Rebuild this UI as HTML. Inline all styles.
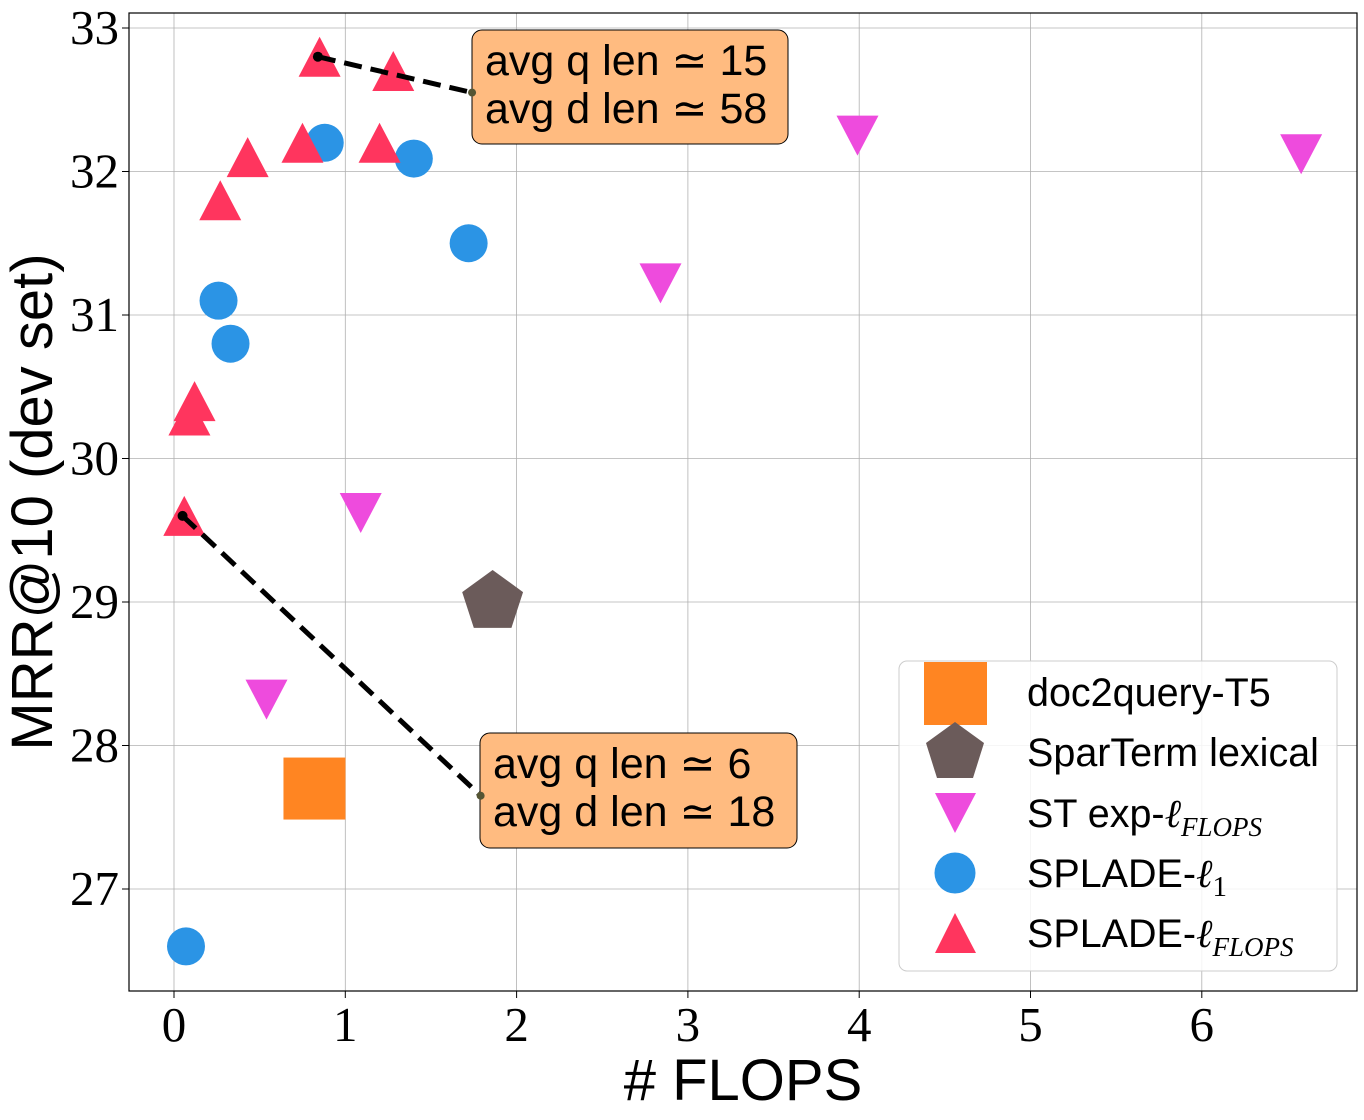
<!DOCTYPE html>
<html><head><meta charset="utf-8"><style>
html,body{margin:0;padding:0;background:#fff;}
svg{display:block;}
.tick{font-family:"Liberation Serif",serif;font-size:49px;fill:#000;}
.lab{font-family:"Liberation Sans",sans-serif;font-size:58px;fill:#000;}
.leg{font-family:"Liberation Sans",sans-serif;font-size:39.5px;fill:#000;}
.ann{font-family:"Liberation Sans",sans-serif;font-size:43px;fill:#000;}
.it{font-family:"Liberation Serif",serif;font-style:italic;}
</style></head><body>
<svg id="chart" width="1364" height="1120" xmlns="http://www.w3.org/2000/svg">
<g id="grid"></g>
<g id="marks"></g>
<rect x="129" y="13" width="1228" height="978" fill="none" stroke="#000" stroke-width="1.2"/>
<g id="ticks"></g>
<text class="lab" x="743" y="1100" text-anchor="middle"># FLOPS</text>
<text class="lab" transform="translate(52,502) rotate(-90)" text-anchor="middle">MRR@10 (dev set)</text>
<g>
<rect x="472" y="30" width="316" height="114" rx="10" fill="#ffbb80" stroke="#000" stroke-width="1"/>
<text class="ann" x="485" y="75">avg q len ≃ 15</text>
<text class="ann" x="485" y="123">avg d len ≃ 58</text>
</g>
<g>
<rect x="480" y="733" width="317" height="115" rx="10" fill="#ffbb80" stroke="#000" stroke-width="1"/>
<text class="ann" x="493" y="778">avg q len ≃ 6</text>
<text class="ann" x="493" y="826">avg d len ≃ 18</text>
</g>
<g id="lines"></g>
<g>
<rect x="899" y="661" width="438" height="310" rx="8" fill="#fff" fill-opacity="0.85" stroke="#ccc"/>
<rect x="924" y="662" width="63" height="63" fill="#ff8522"/>
<polygon points="955,722 984,743 973,778 937,778 926,743" fill="#6b5b5a"/>
<polygon points="935,793 976,793 955,833" fill="#ee4bdd"/>
<circle cx="955" cy="873" r="20.5" fill="#2b94e5"/>
<polygon points="955,913 976,953 935,953" fill="#ff355e"/>
<text class="leg" x="1027" y="706">doc2query-T5</text>
<text class="leg" x="1027" y="766">SparTerm lexical</text>
<text class="leg" x="1027" y="827">ST exp-<tspan class="it">ℓ</tspan><tspan class="it" font-size="27" dy="9">FLOPS</tspan></text>
<text class="leg" x="1027" y="887">SPLADE-<tspan class="it">ℓ</tspan><tspan font-family="Liberation Serif" font-size="29" dy="9">1</tspan></text>
<text class="leg" x="1027" y="947">SPLADE-<tspan class="it">ℓ</tspan><tspan class="it" font-size="27" dy="9">FLOPS</tspan></text>
</g>
</svg>
<script>
const xTicks=[0,1,2,3,4,5,6];
const yTicks=[27,28,29,30,31,32,33];
const circleX=[0.88,1.40,1.72,0.26,0.33,0.07];
const circleY=[32.2,32.09,31.5,31.1,30.8,26.6];
const upX=[0.85,1.28,0.75,1.20,0.43,0.27,0.12,0.09,0.06];
const upY=[32.8,32.7,32.2,32.2,32.1,31.8,30.4,30.3,29.6];
const downX=[3.99,6.58,2.84,1.09,0.54];
const downY=[32.25,32.12,31.22,29.62,28.32];
const pentX=[1.86];const pentY=[29.0];
const sqX=[0.82];const sqY=[27.7];
const lineTopX=[0.84,1.74];const lineTopY=[32.8,32.55];
const lineBotX=[0.05,1.79];const lineBotY=[29.6,27.65];
const NS='http://www.w3.org/2000/svg';
const sx=v=>174+v*171.3;
const sy=v=>28+(33-v)*143.5;
function el(tag,attrs,parent){const e=document.createElementNS(NS,tag);for(const k in attrs)e.setAttribute(k,attrs[k]);document.getElementById(parent).appendChild(e);return e;}
xTicks.forEach(t=>{
 const g=el('line',{x1:sx(t),x2:sx(t),y1:13,y2:991,stroke:'#b0b0b0','stroke-width':0.8},'grid');
 
 
 const tk=el('line',{x1:sx(t),x2:sx(t),y1:991,y2:998,stroke:'#000'},'ticks');
 
 
 const tx=el('text',{x:sx(t),y:1041,'text-anchor':'middle',class:'tick'},'ticks');tx.textContent=t;
 
 
});
yTicks.forEach(t=>{
 const g=el('line',{x1:129,x2:1357,y1:sy(t),y2:sy(t),stroke:'#b0b0b0','stroke-width':0.8},'grid');
 
 
 const tk=el('line',{x1:122,x2:129,y1:sy(t),y2:sy(t),stroke:'#000'},'ticks');
 
 
 const tx=el('text',{x:119,y:sy(t)+16,'text-anchor':'end',class:'tick'},'ticks');tx.textContent=t;
 
 
});
[[lineTopX,lineTopY],[lineBotX,lineBotY]].forEach(([xs,ys])=>{
 const l=el('line',{x1:sx(xs[0]),y1:sy(ys[0]),x2:sx(xs[1]),y2:sy(ys[1]),stroke:'#000','stroke-width':5,'stroke-dasharray':'18,9'},'lines');
 
 
 const d=el('circle',{cx:sx(xs[0]),cy:sy(ys[0]),r:5,fill:'#000'},'lines');
 
 
 const d2=el('circle',{cx:sx(xs[1]),cy:sy(ys[1]),r:4,fill:'#553'},'lines');
 
 
});
sqX.forEach((x,i)=>{const m=el('rect',{x:sx(x)-31,y:sy(sqY[i])-31,width:62,height:62,fill:'#ff8522'},'marks');
 
 });
pentX.forEach((x,i)=>{const cx=sx(x),cy=sy(pentY[i]);let p=[];for(let k=0;k<5;k++){const a=-Math.PI/2+k*2*Math.PI/5;p.push((cx+32*Math.cos(a))+','+(cy+32*Math.sin(a)));}
 const m=el('polygon',{points:p.join(' '),fill:'#6b5b5a'},'marks');
 
 });
downX.forEach((x,i)=>{const cx=sx(x),cy=sy(downY[i]);
 const m=el('polygon',{points:`${cx-21},${cy-20} ${cx+21},${cy-20} ${cx},${cy+20}`,fill:'#ee4bdd'},'marks');
 
 });
circleX.forEach((x,i)=>{const m=el('circle',{cx:sx(x),cy:sy(circleY[i]),r:19,fill:'#2b94e5'},'marks');
 
 });
upX.forEach((x,i)=>{const cx=sx(x),cy=sy(upY[i]);
 const m=el('polygon',{points:`${cx},${cy-20} ${cx+21},${cy+20} ${cx-21},${cy+20}`,fill:'#ff355e'},'marks');
 
 });
</script>
</body></html>
